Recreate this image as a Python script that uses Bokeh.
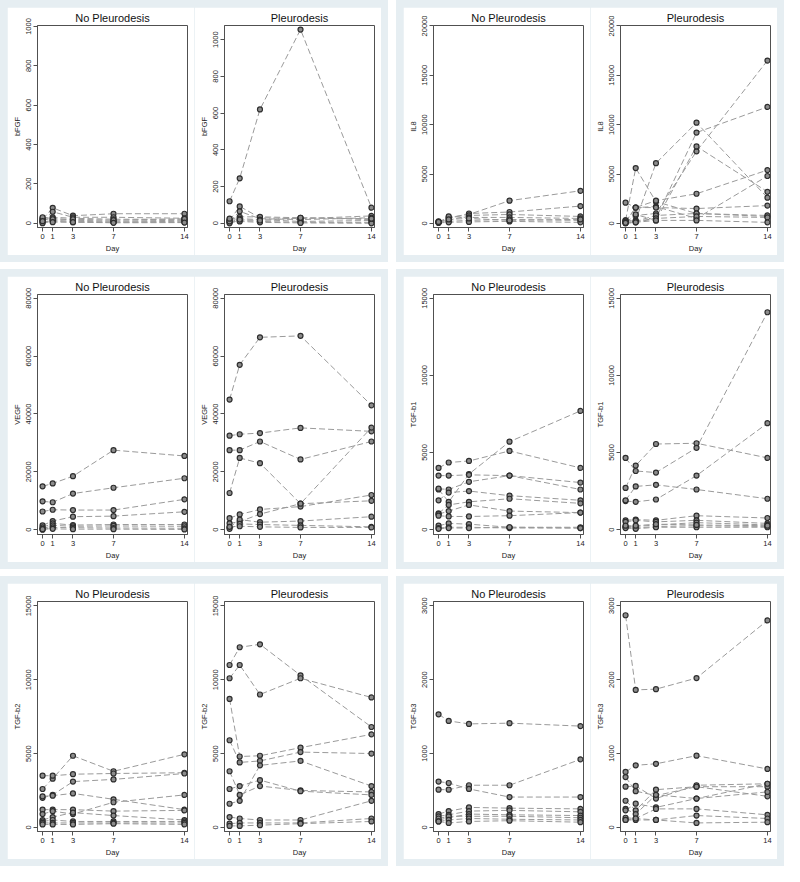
from bokeh.plotting import figure
from bokeh.layouts import row, column
from bokeh.models import FixedTicker, Range1d, Spacer
from bokeh.embed import file_html
from bokeh.resources import INLINE

days = [0, 1, 3, 7, 14]
group_titles = ["No Pleurodesis", "Pleurodesis"]

# ---- bFGF ----
bfgf_no = [
    [20, 78, 38, 48, 48],
    [10, 58, 30, 30, 25],
    [25, 30, 25, 20, 20],
    [15, 25, 15, 10, 15],
    [5, 15, 10, 5, 10],
    [0, 10, 5, 5, 5],
    [30, 20, 20, 15, 22],
    [10, 5, 5, 2, 3],
]
bfgf_pl = [
    [120, 245, 620, 1055, 85],
    [15, 92, 30, 25, 40],
    [10, 65, 25, 20, 30],
    [20, 35, 35, 30, 20],
    [5, 25, 20, 10, 15],
    [0, 15, 10, 5, 5],
    [10, 10, 5, 2, 0],
    [25, 20, 15, 30, 25],
]
# ---- IL8 ----
il8_no = [
    [150, 600, 900, 2300, 3300],
    [100, 500, 1000, 1150, 1750],
    [200, 300, 800, 900, 700],
    [50, 700, 600, 600, 500],
    [100, 200, 300, 400, 300],
    [50, 100, 150, 200, 100],
    [150, 400, 500, 300, 400],
]
il8_pl = [
    [300, 5600, 2200, 1000, 700],
    [200, 300, 6100, 10200, 2600],
    [100, 800, 1000, 7300, 16500],
    [300, 200, 500, 9200, 11800],
    [200, 1600, 2300, 3000, 5400],
    [2100, 1600, 1700, 500, 4800],
    [50, 900, 300, 7800, 3200],
    [100, 1600, 1600, 1500, 1800],
    [50, 200, 800, 1000, 800],
    [0, 100, 500, 700, 600],
    [50, 100, 300, 300, 100],
]
# ---- VEGF ----
vegf_no = [
    [15000, 16000, 18500, 27500, 25500],
    [9800, 9500, 12500, 14500, 17800],
    [6300, 6900, 6800, 6800, 10500],
    [1500, 3000, 4500, 4700, 6200],
    [800, 2200, 1600, 1800, 1800],
    [300, 1500, 1200, 1300, 1200],
    [0, 800, 700, 600, 500],
    [200, 300, 200, 200, 100],
]
vegf_pl = [
    [45000, 57000, 66500, 67000, 43000],
    [32500, 33000, 33400, 35200, 34000],
    [27500, 27500, 30500, 24300, 30500],
    [12700, 24800, 23000, 9000, 35300],
    [4000, 5300, 7000, 8000, 12000],
    [2200, 2800, 5400, 9000, 10000],
    [800, 3500, 2600, 3000, 4500],
    [300, 2000, 1800, 1500, 1000],
    [1000, 1200, 1000, 800, 800],
]
# ---- TGF-b1 ----
tgfb1_no = [
    [4000, 4350, 4450, 5100, 4000],
    [2600, 1800, 3600, 5700, 7700],
    [3500, 3500, 3550, 3500, 3050],
    [2650, 2600, 3100, 3500, 2600],
    [1900, 2400, 2500, 2200, 1900],
    [1050, 1600, 1800, 2000, 1700],
    [1000, 1200, 1600, 1200, 1100],
    [900, 850, 850, 900, 1100],
    [250, 400, 350, 150, 150],
    [100, 150, 150, 100, 100],
    [50, 100, 100, 150, 100],
]
tgfb1_pl = [
    [2700, 4150, 5550, 5600, 4650],
    [4650, 3800, 3700, 5300, 14100],
    [1850, 1800, 1950, 3500, 6900],
    [1900, 2800, 2900, 2600, 2000],
    [600, 650, 600, 900, 750],
    [500, 600, 500, 600, 400],
    [200, 200, 300, 450, 300],
    [150, 100, 200, 250, 200],
    [100, 50, 150, 150, 150],
    [250, 250, 350, 300, 250],
]
# ---- TGF-b2 ----
tgfb2_no = [
    [2600, 3300, 4850, 3800, 4950],
    [3500, 3500, 3600, 3650, 3700],
    [2000, 2200, 3100, 3250, 3650],
    [2100, 2150, 2300, 1900, 1200],
    [1200, 1200, 1200, 1100, 1150],
    [900, 1100, 900, 1700, 2200],
    [500, 700, 1000, 800, 500],
    [400, 500, 400, 400, 400],
    [300, 300, 300, 300, 300],
    [200, 200, 200, 250, 200],
]
tgfb2_pl = [
    [11000, 12200, 12400, 10300, 6800],
    [10100, 11000, 9000, 10100, 8800],
    [8700, 4800, 4850, 5400, 6300],
    [5900, 4400, 4500, 5100, 5000],
    [3800, 2200, 2800, 2500, 2400],
    [2600, 2800, 3200, 2450, 2200],
    [1600, 1800, 4200, 4500, 2800],
    [700, 600, 500, 500, 1800],
    [250, 300, 300, 300, 600],
    [100, 100, 150, 250, 400],
]
# ---- TGF-b3 ----
tgfb3_no = [
    [1530, 1440, 1400, 1410, 1370],
    [510, 510, 570, 570, 920],
    [620, 600, 520, 410, 410],
    [180, 220, 270, 260, 250],
    [150, 170, 220, 230, 210],
    [100, 130, 180, 170, 160],
    [120, 150, 150, 150, 130],
    [80, 100, 120, 110, 100],
    [80, 60, 80, 90, 70],
]
tgfb3_pl = [
    [2870, 1860, 1870, 2020, 2800],
    [750, 840, 860, 970, 790],
    [680, 490, 430, 550, 420],
    [550, 560, 390, 570, 590],
    [360, 230, 510, 550, 550],
    [250, 180, 440, 390, 480],
    [230, 320, 270, 390, 590],
    [130, 120, 250, 250, 170],
    [100, 100, 100, 160, 120],
    [100, 120, 100, 60, 70],
]

BLUE = "#e6eef2"
FONT = "Liberation Sans"
AX = "#505050"


def make_fig(title, ylabel, series, yr, yticks, w, h):
    p = figure(width=w, height=h, output_backend="svg", toolbar_location=None,
               x_range=Range1d(-0.5, 14.3), y_range=Range1d(*yr),
               min_border_left=30, min_border_right=7, min_border_top=18,
               min_border_bottom=24, title=title)
    p.title.align = "center"
    p.title.text_font = FONT
    p.title.text_font_size = "11px"
    p.title.text_font_style = "normal"
    p.title.text_color = "#111111"
    p.title.standoff = 3
    p.title.offset = 0
    p.grid.visible = False
    p.outline_line_color = AX
    p.outline_line_width = 1
    p.outline_line_alpha = 1
    for s in series:
        p.line(days, s, line_color="#9a9a9a", line_width=1, line_dash="6 3")
    for s in series:
        p.scatter(days, s, size=5, fill_color="#8c8c8c", line_color="#2e2e2e",
                  line_width=1.2)
    p.xaxis.ticker = FixedTicker(ticks=days)
    p.yaxis.ticker = FixedTicker(ticks=yticks)
    p.xaxis.axis_label = "Day"
    p.yaxis.axis_label = ylabel
    for ax in (p.xaxis[0], p.yaxis[0]):
        ax.axis_line_color = AX
        ax.major_tick_line_color = AX
        ax.minor_tick_line_color = None
        ax.major_tick_out = 4
        ax.major_tick_in = 0
        ax.major_label_text_font = FONT
        ax.major_label_text_font_size = "7.5px"
        ax.major_label_text_color = "#222222"
        ax.axis_label_text_font = FONT
        ax.axis_label_text_font_size = "7.5px"
        ax.axis_label_text_font_style = "normal"
        ax.axis_label_text_color = "#222222"
        ax.major_label_standoff = 2
        ax.axis_label_standoff = 2
    p.yaxis.major_label_orientation = "vertical"
    return p


def panel(name, no, pl, yr_no, yr_pl, yticks, w, h):
    fw = (w - 14) // 2
    fh = h - 14
    f1 = make_fig(group_titles[0], name, no, yr_no, yticks, fw, fh)
    f2 = make_fig(group_titles[1], name, pl, yr_pl, yticks, fw, fh)
    inner = row(Spacer(width=7, height=fh), f1, f2, Spacer(width=7, height=fh))
    return column(Spacer(width=w, height=7), inner, Spacer(width=w, height=7),
                  styles={"background-color": BLUE})


W = 388
p1 = panel("bFGF", bfgf_no, bfgf_pl, (-22, 1005), (-23, 1077),
           [0, 200, 400, 600, 800, 1000], W, 262)
p2 = panel("IL8", il8_no, il8_pl, (-420, 20050), (-420, 20050),
           [0, 5000, 10000, 15000, 20000], W, 262)
p3 = panel("VEGF", vegf_no, vegf_pl, (-1650, 81300), (-1650, 81300),
           [0, 20000, 40000, 60000, 80000], W, 300)
p4 = panel("TGF-b1", tgfb1_no, tgfb1_pl, (-320, 15250), (-320, 15250),
           [0, 5000, 10000, 15000], W, 300)
p5 = panel("TGF-b2", tgfb2_no, tgfb2_pl, (-280, 15300), (-280, 15300),
           [0, 5000, 10000, 15000], W, 290)
p6 = panel("TGF-b3", tgfb3_no, tgfb3_pl, (-56, 3056), (-56, 3056),
           [0, 1000, 2000, 3000], W, 290)

layout = column(
    row(p1, Spacer(width=8, height=262), p2),
    Spacer(width=784, height=7),
    row(p3, Spacer(width=8, height=300), p4),
    Spacer(width=784, height=7),
    row(p5, Spacer(width=8, height=290), p6),
)

open("out.html", "w").write(file_html(layout, INLINE))
